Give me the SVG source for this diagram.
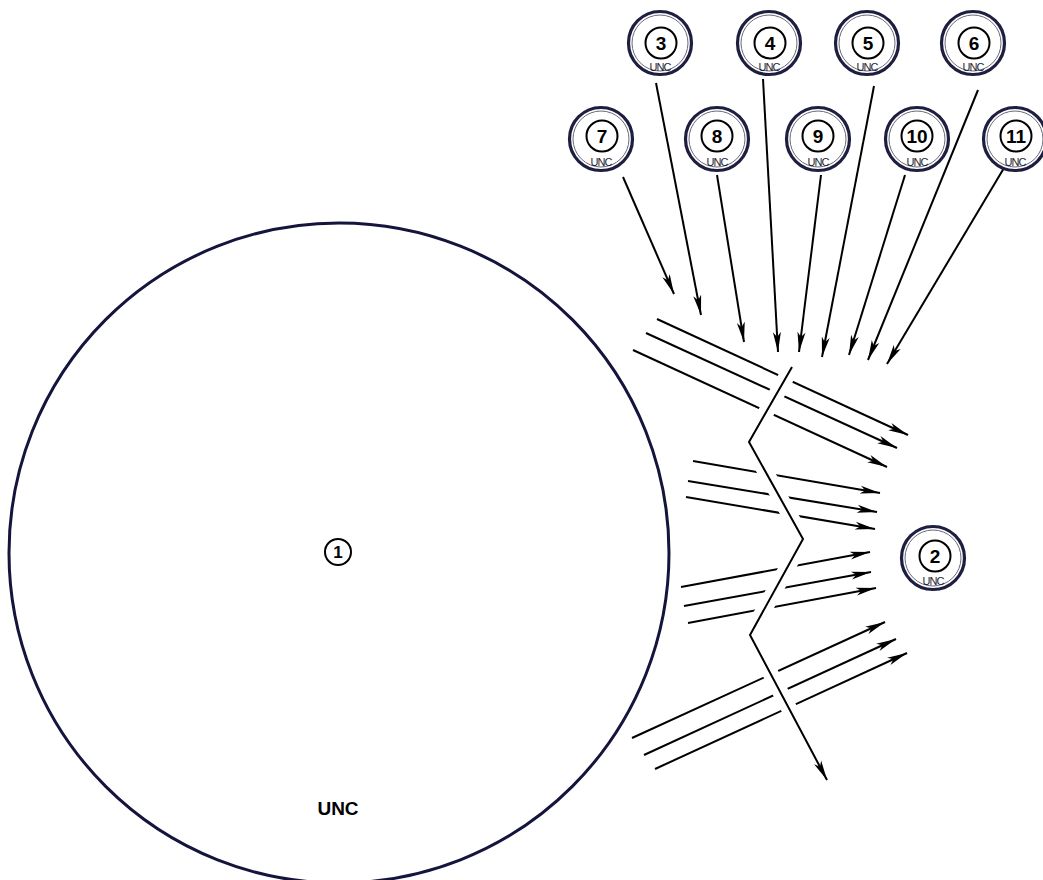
<svg xmlns="http://www.w3.org/2000/svg" width="1043" height="880" viewBox="0 0 1043 880">
<defs>
<style>
.ar{stroke:#000;stroke-width:2;fill:none;marker-end:url(#ah)}
.ring{fill:#fff;stroke:#1e1e40;stroke-width:3.2}
.ring2{fill:none;stroke:#6a6a7a;stroke-width:1}
.lab{fill:#fff;stroke:#000;stroke-width:2}
.num{font-family:"Liberation Sans",Arial,sans-serif;font-weight:bold;font-size:19px;text-anchor:middle;fill:#000}
.unc{font-family:"Liberation Sans",Arial,sans-serif;font-size:11px;text-anchor:middle;fill:#1e1e30;letter-spacing:-0.9px}
</style>
<marker id="ah" viewBox="0 0 20 10" refX="20" refY="5" markerWidth="20" markerHeight="10" markerUnits="userSpaceOnUse" orient="auto">
<path d="M0,1 L20,5 L0,9 L5,5 z" fill="#000"/>
</marker>
</defs>
<rect width="1043" height="880" fill="#fff"/>

<g id="node1">
<circle cx="339" cy="553" r="330" fill="none" stroke="#14143c" stroke-width="3"/>
<circle cx="338" cy="552" r="13" class="lab"/>
<text x="338" y="558" font-family="Liberation Sans, Arial, sans-serif" font-weight="bold" font-size="17" text-anchor="middle" fill="#000">1</text>
<text x="338" y="815" font-family="Liberation Sans, Arial, sans-serif" font-weight="bold" font-size="19" text-anchor="middle" fill="#000">UNC</text>
</g>

<g id="connectors">
<line class="ar" x1="623" y1="177" x2="674" y2="294"/>
<line class="ar" x1="656" y1="83" x2="701" y2="315"/>
<line class="ar" x1="717" y1="175" x2="744" y2="342"/>
<line class="ar" x1="763" y1="79" x2="778" y2="352"/>
<line class="ar" x1="821" y1="175" x2="799" y2="352"/>
<line class="ar" x1="874" y1="86" x2="822" y2="357"/>
<line class="ar" x1="905" y1="175" x2="849" y2="355"/>
<line class="ar" x1="978" y1="90" x2="868" y2="360"/>
<line class="ar" x1="1004" y1="168" x2="887" y2="364"/>

<line class="ar" x1="657" y1="319" x2="908" y2="435"/>
<line class="ar" x1="646" y1="333" x2="897" y2="448"/>
<line class="ar" x1="633" y1="350" x2="887" y2="467"/>

<line class="ar" x1="693" y1="461" x2="880" y2="493"/>
<line class="ar" x1="688" y1="481" x2="877" y2="512"/>
<line class="ar" x1="686" y1="497" x2="875" y2="529"/>

<line class="ar" x1="681" y1="587" x2="870" y2="552"/>
<line class="ar" x1="684" y1="606" x2="871" y2="572"/>
<line class="ar" x1="688" y1="623" x2="876" y2="588"/>

<line class="ar" x1="632" y1="738" x2="885" y2="622"/>
<line class="ar" x1="644" y1="755" x2="896" y2="639"/>
<line class="ar" x1="655" y1="769" x2="907" y2="653"/>

<polyline points="796,360 749,442 803,539 750,635 808,744" fill="none" stroke="#fff" stroke-width="16" stroke-linejoin="miter"/>
<polyline class="ar" points="792,367 749,442 803,539 750,635 827,780"/>
</g>

<g id="node2">
<circle cx="933" cy="558" r="31.5" class="ring"/>
<circle cx="933" cy="558" r="28" class="ring2"/>
<circle cx="935" cy="556" r="15.5" class="lab"/>
<text x="935" y="563" class="num">2</text>
<text x="933" y="585" class="unc">UNC</text>
</g>

<g id="node3">
<circle cx="660" cy="43" r="31.5" class="ring"/>
<circle cx="660" cy="43" r="28" class="ring2"/>
<circle cx="661" cy="43" r="15.5" class="lab"/>
<text x="661" y="50" class="num">3</text>
<text x="660" y="71" class="unc">UNC</text>
</g>
<g id="node4">
<circle cx="769" cy="43" r="31.5" class="ring"/>
<circle cx="769" cy="43" r="28" class="ring2"/>
<circle cx="770" cy="43" r="15.5" class="lab"/>
<text x="770" y="50" class="num">4</text>
<text x="769" y="71" class="unc">UNC</text>
</g>
<g id="node5">
<circle cx="867" cy="43" r="31.5" class="ring"/>
<circle cx="867" cy="43" r="28" class="ring2"/>
<circle cx="868" cy="43" r="15.5" class="lab"/>
<text x="868" y="50" class="num">5</text>
<text x="867" y="71" class="unc">UNC</text>
</g>
<g id="node6">
<circle cx="973" cy="43" r="31.5" class="ring"/>
<circle cx="973" cy="43" r="28" class="ring2"/>
<circle cx="974" cy="43" r="15.5" class="lab"/>
<text x="974" y="50" class="num">6</text>
<text x="973" y="71" class="unc">UNC</text>
</g>
<g id="node7">
<circle cx="601" cy="139" r="31.5" class="ring"/>
<circle cx="601" cy="139" r="28" class="ring2"/>
<circle cx="602" cy="136" r="15.5" class="lab"/>
<text x="602" y="143" class="num">7</text>
<text x="601" y="166" class="unc">UNC</text>
</g>
<g id="node8">
<circle cx="717" cy="139" r="31.5" class="ring"/>
<circle cx="717" cy="139" r="28" class="ring2"/>
<circle cx="717" cy="136" r="15.5" class="lab"/>
<text x="717" y="143" class="num">8</text>
<text x="717" y="166" class="unc">UNC</text>
</g>
<g id="node9">
<circle cx="818" cy="139" r="31.5" class="ring"/>
<circle cx="818" cy="139" r="28" class="ring2"/>
<circle cx="818" cy="136" r="15.5" class="lab"/>
<text x="818" y="143" class="num">9</text>
<text x="818" y="166" class="unc">UNC</text>
</g>
<g id="node10">
<circle cx="917" cy="139" r="31.5" class="ring"/>
<circle cx="917" cy="139" r="28" class="ring2"/>
<circle cx="917" cy="136" r="15.5" class="lab"/>
<text x="917" y="143" class="num">10</text>
<text x="917" y="166" class="unc">UNC</text>
</g>
<g id="node11">
<circle cx="1015" cy="139" r="31.5" class="ring"/>
<circle cx="1015" cy="139" r="28" class="ring2"/>
<circle cx="1016" cy="136" r="15.5" class="lab"/>
<text x="1016" y="143" class="num">11</text>
<text x="1015" y="166" class="unc">UNC</text>
</g>
</svg>
